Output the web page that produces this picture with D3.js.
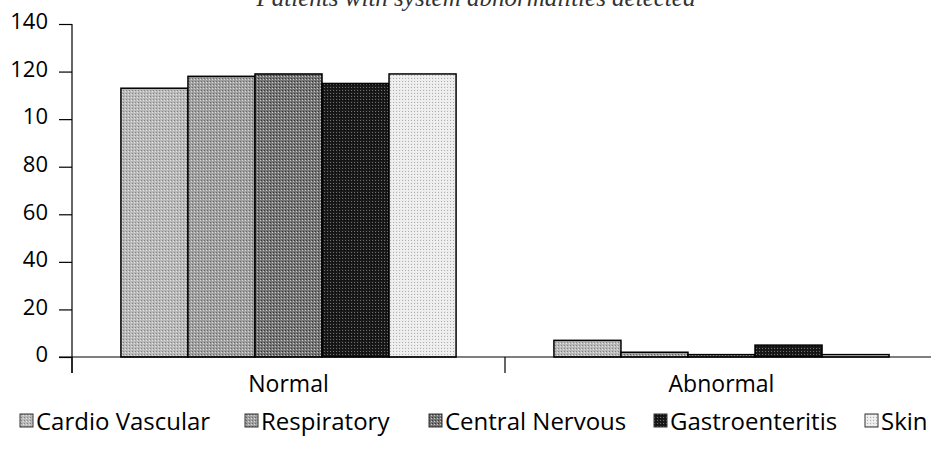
<!DOCTYPE html>
<html>
<head>
<meta charset="utf-8">
<script src="https://cdn.jsdelivr.net/npm/d3@7"></script>
<style>
  html, body { margin: 0; padding: 0; background: #fff; }
  svg { display: block; }
</style>
</head>
<body>
<svg id="chart" width="931" height="450"></svg>
<script>
// ---- data ----
const categories = ["Normal", "Abnormal"];
const series = ["Cardio Vascular", "Respiratory", "Central Nervous", "Gastroenteritis", "Skin"];
const normalValues = [113, 118, 119, 115, 119];
const abnormalValues = [7, 2, 1, 5, 1];
const yTickValues = [0, 20, 40, 60, 80, 100, 120, 140];
const yTickLabels = ["0", "20", "40", "60", "80", "10", "120", "140"];
const titleText = "Patients with system abnormalities detected";

const valuesByCategory = { "Normal": normalValues, "Abnormal": abnormalValues };

// ---- layout ----
const svg = d3.select("#chart");
const axisX = 72, baseY = 357, topY = 24;
const fills = ["#b9b9b9", "#a0a0a0", "#757575", "#1a1a1a", "#ececec"];
const dots = ["#878787", "#6a6a6a", "#383838", "#6f6f6f", "#b0b0b0"];
const FONT = "Open Sans, sans-serif";

// patterns to mimic the dithered greys
const defs = svg.append("defs");
series.forEach((s, i) => {
  const p = defs.append("pattern")
    .attr("id", "pat" + i).attr("patternUnits", "userSpaceOnUse")
    .attr("width", 3).attr("height", 3);
  p.append("rect").attr("width", 3).attr("height", 3).attr("fill", fills[i]);
  p.append("rect").attr("x", 0).attr("y", 0).attr("width", 1).attr("height", 1).attr("fill", dots[i]);
  p.append("rect").attr("x", 2).attr("y", 1).attr("width", 1).attr("height", 1).attr("fill", i === 3 ? "#000" : "#fff").attr("opacity", 0.6);
});

const x = d3.scaleBand().domain(categories).range([axisX, axisX + 2 * 433]).paddingInner(0).paddingOuter(0);
const xs = d3.scaleBand().domain(series).range([0, x.bandwidth()]).paddingInner(0).paddingOuter(0.73);
const y = d3.scaleLinear().domain([0, 140]).range([baseY, topY]);

// title (cut off at top like the reference)
svg.append("text")
  .attr("x", 476).attr("y", 6)
  .attr("text-anchor", "middle")
  .attr("font-family", "Liberation Serif, serif")
  .attr("font-style", "italic")
  .attr("font-size", 25)
  .attr("fill", "#333")
  .text(titleText);

// bars
const g = svg.append("g");
categories.forEach(cat => {
  const vals = valuesByCategory[cat];
  g.selectAll(null).data(series.map((s, i) => ({ s, i, v: vals[i] })))
    .enter().append("rect")
    .attr("x", d => x(cat) + xs(d.s))
    .attr("y", d => y(d.v))
    .attr("width", xs.bandwidth())
    .attr("height", d => baseY - y(d.v))
    .attr("fill", d => "url(#pat" + d.i + ")")
    .attr("stroke", "#000")
    .attr("stroke-width", 1.5);
});

// x axis
const xAxis = svg.append("g").attr("transform", `translate(0,${baseY})`);
xAxis.append("line").attr("x1", 59).attr("x2", 931).attr("y1", 0).attr("y2", 0)
  .attr("stroke", "#000").attr("stroke-width", 1.2);
const bounds = [axisX, ...categories.map(c => x(c) + x.bandwidth())];
xAxis.selectAll(".ct").data(bounds).enter().append("line")
  .attr("x1", d => d).attr("x2", d => d).attr("y1", 0).attr("y2", 16)
  .attr("stroke", "#000").attr("stroke-width", 1.2);
xAxis.selectAll(".cl").data(categories).enter().append("text")
  .attr("x", d => x(d) + x.bandwidth() / 2)
  .attr("y", 35)
  .attr("text-anchor", "middle")
  .attr("font-family", FONT)
  .attr("font-size", 23)
  .attr("fill", "#000")
  .text(d => d);

// y axis
const yAxis = d3.axisLeft(y).tickValues(yTickValues)
  .tickFormat((d, i) => yTickLabels[i]).tickSize(13).tickPadding(11);
const ya = svg.append("g").attr("transform", `translate(${axisX},0)`).call(yAxis);
ya.select(".domain").remove();
ya.append("line").attr("x1", 0).attr("x2", 0).attr("y1", topY).attr("y2", baseY + 16)
  .attr("stroke", "#000").attr("stroke-width", 1.2);
ya.selectAll(".tick line").attr("stroke", "#000").attr("stroke-width", 1.2);
ya.selectAll(".tick text")
  .attr("font-family", FONT)
  .attr("font-size", 22)
  .attr("dy", "0.22em")
  .attr("fill", "#000");

// legend
const legendX = [20, 245, 429, 654, 865];
const lg = svg.append("g").attr("transform", "translate(0,423)");
series.forEach((s, i) => {
  lg.append("rect").attr("x", legendX[i]).attr("y", -9).attr("width", 13).attr("height", 13)
    .attr("fill", "url(#pat" + i + ")").attr("stroke", "#333").attr("stroke-width", 1);
  lg.append("text").attr("x", legendX[i] + 16).attr("y", 7)
    .attr("font-family", FONT)
    .attr("font-size", 24)
    .attr("fill", "#000")
    .text(s);
});
</script>
</body>
</html>
